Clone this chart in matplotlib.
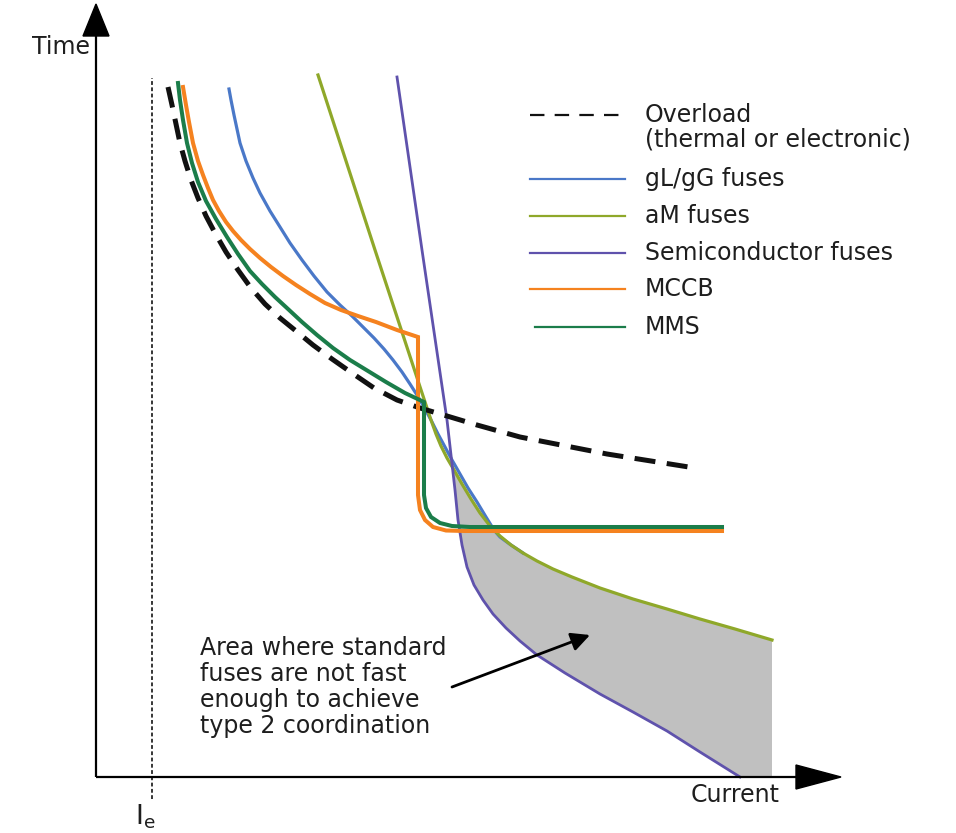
import numpy as np
import matplotlib
matplotlib.use("Agg")
import matplotlib.pyplot as plt
from matplotlib.patches import Polygon

# Schematic time-current characteristics (arbitrary units: current -> right, time -> up)
overload_current = [72, 76, 80, 84, 89, 95, 102, 110, 119, 130, 142, 155, 169, 184, 200, 217, 236,
                    256, 278, 301, 324, 351, 381, 424, 511, 599]
overload_time = [690, 672, 653, 634, 616, 597, 579, 561, 544, 525, 507, 489, 473, 459, 446, 432, 418,
                 404, 389, 377, 369, 361, 352, 340, 323, 309]

gg_current = [133, 135, 138, 141, 144, 150, 157, 164, 174, 184, 194, 206, 218, 231, 244, 256, 267, 278,
              288, 297, 306, 314, 321, 328, 335, 342, 349, 356, 364, 372, 381, 390, 398, 404, 415, 427]
gg_time = [688, 677, 662, 648, 634, 616, 599, 584, 566, 550, 534, 517, 501, 485, 472, 461, 450, 439,
           428, 417, 405, 393, 382, 370, 357, 343, 330, 317, 303, 289, 275, 260, 247, 240, 232, 224]

am_current = [222, 279, 329, 335, 340, 345, 351, 358, 366, 375, 384, 394, 404, 415, 427, 441, 457, 476,
              504, 537, 571, 604, 639, 676]
am_time = [702, 527, 375, 357, 343, 331, 319, 307, 293, 278, 264, 251, 241, 232, 224, 216, 208, 200,
           189, 178, 168, 158, 148, 137]

semi_current = [301, 326, 351, 355, 359, 362, 366, 371, 378, 387, 397, 410, 424, 441, 469, 504, 537, 571, 604, 644]
semi_time = [700, 527, 357, 322, 287, 257, 232, 210, 192, 177, 163, 149, 136, 122, 104, 83, 65, 46, 25, 0]

mccb_current = [87, 90, 93, 97, 102, 107, 112, 117, 123, 130, 137, 145, 154, 164, 175, 187, 200, 214,
                229, 245, 262, 280, 301, 322, 322, 324, 329, 337, 350, 369, 626]
mccb_time = [690, 672, 655, 634, 616, 602, 589, 577, 566, 555, 546, 537, 528, 519, 510, 501, 492, 483,
             474, 467, 461, 455, 447, 440, 282, 267, 257, 250, 246.5, 246, 246]

mms_current = [82, 84, 87, 91, 96, 102, 110, 120, 131, 142, 154, 166, 179, 192, 206, 221, 237, 254,
               272, 290, 309, 328, 328, 330, 335, 344, 356, 374, 626]
mms_time = [694, 677, 657, 634, 614, 595, 576, 558, 540, 523, 506, 493, 480, 468, 455, 442, 429, 417,
            406, 395, 384, 375, 282, 269, 260, 254, 251, 250, 250]

rated_current = 56  # I_e

legend_labels = ["Overload\n(thermal or electronic)", "gL/gG fuses", "aM fuses",
                 "Semiconductor fuses", "MCCB", "MMS"]
note_text = "Area where standard\nfuses are not fast\nenough to achieve\ntype 2 coordination"

C_OVL = "#111111"
C_GG = "#4a78c8"
C_AM = "#8fa82a"
C_SEMI = "#5f52ac"
C_MCCB = "#f5821f"
C_MMS = "#1b7d4a"
C_FILL = "#c0c0c0"
TXT = "#1e1e1e"
FONT = "DejaVu Sans"
FS = 17

fig = plt.figure(figsize=(9.56, 8.33), dpi=100)
ax = fig.add_axes([0, 0, 1, 1])
ax.set_xlim(-96, 860)
ax.set_ylim(-56, 777)
ax.axis("off")

# Shaded region between aM fuse curve and semiconductor fuse curve
am_c = np.array(am_current, float)
am_t = np.array(am_time, float)
se_c = np.array(semi_current, float)
se_t = np.array(semi_time, float)
upper = am_c >= 356
lower = se_t <= 300
poly_c = np.concatenate([am_c[upper], [am_c[-1]], se_c[lower][::-1]])
poly_t = np.concatenate([am_t[upper], [0], se_t[lower][::-1]])
ax.fill(poly_c, poly_t, color=C_FILL, lw=0, zorder=1)

# Axes with arrowheads
ax.plot([0, 0], [0, 745], color="black", lw=1.6, zorder=5, solid_capstyle="butt")
ax.plot([0, 705], [0, 0], color="black", lw=1.6, zorder=5, solid_capstyle="butt")
ax.add_patch(Polygon([[0, 773], [-13, 741], [13, 741]], closed=True, color="black", zorder=5))
ax.add_patch(Polygon([[745, 0], [700, 12], [700, -12]], closed=True, color="black", zorder=5))

# Rated current marker
ax.plot([rated_current, rated_current], [-22, 699], color="black", lw=1.1,
        dashes=(2.5, 1.6), zorder=2)

# Characteristic curves
ax.plot(gg_current, gg_time, color=C_GG, lw=2.3, zorder=3, solid_joinstyle="round")
ax.plot(am_current, am_time, color=C_AM, lw=2.3, zorder=3.2, solid_joinstyle="round")
ax.plot(semi_current, semi_time, color=C_SEMI, lw=2.0, zorder=3.4, solid_joinstyle="round")
ax.plot(overload_current, overload_time, color=C_OVL, lw=3.6, dashes=(4.2, 2.3),
        zorder=3.5, dash_capstyle="butt")
ax.plot(mccb_current, mccb_time, color=C_MCCB, lw=2.9, zorder=3.6, solid_joinstyle="miter")
ax.plot(mms_current, mms_time, color=C_MMS, lw=2.9, zorder=3.7, solid_joinstyle="miter")

# Legend drawn beside the curves
leg_y = [662, 598, 561, 524, 488, 450]
leg_colors = [C_OVL, C_GG, C_AM, C_SEMI, C_MCCB, C_MMS]
for i, (lab, col, y) in enumerate(zip(legend_labels, leg_colors, leg_y)):
    x0 = 439 if i == 5 else 434
    if i == 0:
        ax.plot([x0, 529], [y, y], color=col, lw=1.6, dashes=(6.5, 4.6), dash_capstyle="butt")
        ax.text(549, y + 12, lab, ha="left", va="top", fontsize=FS, family=FONT, color=TXT,
                linespacing=1.05)
    else:
        ax.plot([x0, 529], [y, y], color=col, lw=1.6)
        ax.text(549, y, lab, ha="left", va="center", fontsize=FS, family=FONT, color=TXT)

# Axis labels
ax.text(-6, 730, "Time", ha="right", va="center", fontsize=FS, family=FONT, color=TXT)
ax.text(639, -18, "Current", ha="center", va="center", fontsize=FS, family=FONT, color=TXT)
ax.text(49, -40, r"$\mathregular{I_e}$", ha="center", va="center", fontsize=FS + 2,
        family=FONT, color=TXT)

# Annotation for the shaded area
ax.text(104, 141, note_text, ha="left", va="top", fontsize=FS, family=FONT, color=TXT,
        linespacing=1.1)
ax.annotate("", xy=(494, 142), xytext=(356, 90),
            arrowprops=dict(arrowstyle="-|>", color="black", lw=2.0, mutation_scale=28,
                            shrinkA=0, shrinkB=0), zorder=6)

fig.savefig("out.png", dpi=100)
